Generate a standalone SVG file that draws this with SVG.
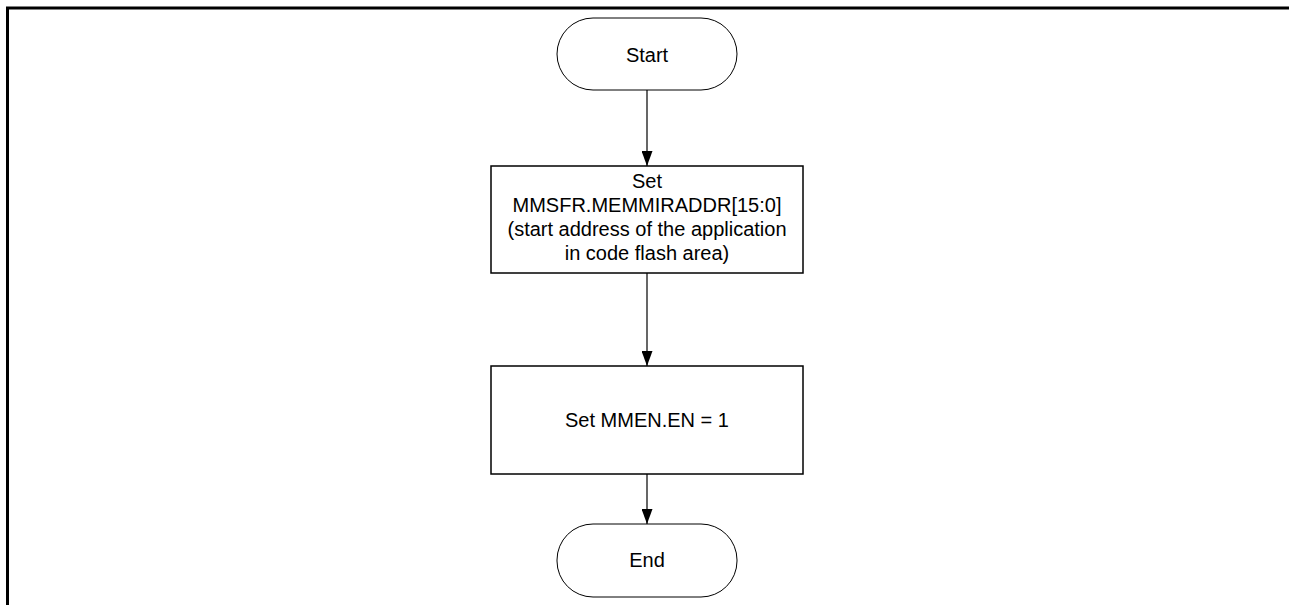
<svg xmlns="http://www.w3.org/2000/svg" width="1289" height="605" viewBox="0 0 1289 605">
<style>
.t{font-family:"Liberation Sans",Arial,sans-serif;font-size:20px;fill:#000;text-anchor:middle}
.term{fill:#fff;stroke:#000;stroke-width:1}
.proc{fill:#fff;stroke:#000;stroke-width:1.5}
.conn{stroke:#000;stroke-width:1.2;fill:none}
</style>
<defs>
<marker id="ah" viewBox="0 0 15 11" refX="15" refY="5.5" markerWidth="15" markerHeight="11" markerUnits="userSpaceOnUse" orient="auto">
<path d="M0,0 L15,5.5 L0,11 Z" fill="#000"/>
</marker>
</defs>
<rect width="1289" height="605" fill="#fff"/>
<path d="M7.5,605 V8 H1289" fill="none" stroke="#000" stroke-width="3"/>
<g id="connectors">
<line class="conn" x1="647" y1="90" x2="647" y2="166" marker-end="url(#ah)"/>
<line class="conn" x1="647" y1="273" x2="647" y2="366" marker-end="url(#ah)"/>
<line class="conn" x1="647" y1="474" x2="647" y2="524" marker-end="url(#ah)"/>
</g>
<g id="start">
<rect class="term" x="557" y="18" width="180" height="72" rx="36" ry="36"/>
<text class="t" x="647" y="61.5">Start</text>
</g>
<g id="set-addr">
<rect class="proc" x="491" y="166" width="312" height="107"/>
<text class="t" x="647" y="188">Set</text>
<text class="t" x="647" y="212">MMSFR.MEMMIRADDR[15:0]</text>
<text class="t" x="647" y="236">(start address of the application</text>
<text class="t" x="647" y="260">in code flash area)</text>
</g>
<g id="set-en">
<rect class="proc" x="491" y="366" width="312" height="108"/>
<text class="t" x="647" y="427">Set MMEN.EN = 1</text>
</g>
<g id="end">
<rect class="term" x="557" y="524" width="180" height="73" rx="36" ry="36"/>
<text class="t" x="647" y="567">End</text>
</g>
</svg>
